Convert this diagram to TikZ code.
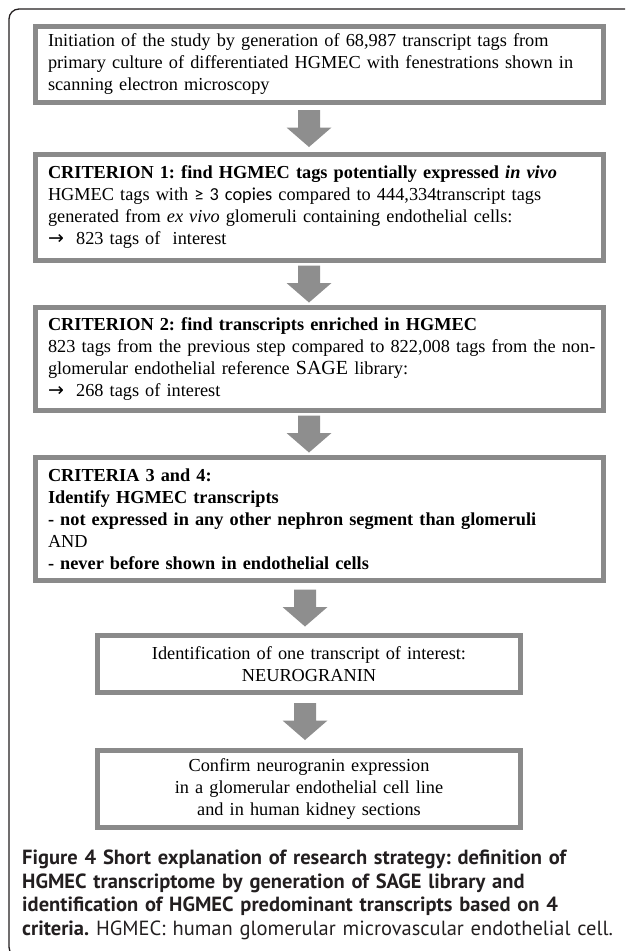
\documentclass[tikz,border=0pt]{standalone}
\usepackage{fontspec}
\setmainfont{Liberation Serif}
\setsansfont{PT Sans}
\newfontfamily\copiesfont{Carlito}
\newfontfamily\arrowfont{DejaVu Sans}
\usetikzlibrary{positioning,calc}
\definecolor{boxgray}{RGB}{138,138,138}
\definecolor{arrowgray}{RGB}{142,142,142}
\definecolor{framecol}{RGB}{35,31,32}
\definecolor{captext}{RGB}{35,31,32}
\frenchspacing
\tikzset{
  stepbox/.style={draw=boxgray, line width=5pt, inner xsep=12.5pt, inner ysep=0pt,
    align=left, font=\fontsize{18.3pt}{22pt}\selectfont},
  endbox/.style={stepbox, align=center},
  captionbox/.style={inner sep=0pt, text width=605pt, align=left, text=captext,
    font=\sffamily\fontsize{20.5pt}{23.4pt}\selectfont},
}
% block arrow centred in the gap between two boxes
\newcommand{\flowarrow}[3]{%
  \coordinate (fa-mid) at ($(#1.south)!0.5!(#2.north)$);
  \fill[arrowgray] (#3,0 |- fa-mid) ++(-11,-18.5) -- ++(22,0) -- ++(0,17.5) -- ++(11.5,0)
    -- ++(-22.5,19.5) -- ++(-22.5,-19.5) -- ++(11.5,0) -- cycle;
}
\newcommand{\toarrow}{{\arrowfont\fontsize{19pt}{22pt}\selectfont →}}

\begin{document}
\begin{tikzpicture}[x=1pt,y=-1pt]
  \useasboundingbox (0,0) rectangle (625,951);
  \clip (0,0) rectangle (625,951);
  % outer frame
  \draw[framecol, line width=1.3pt, rounded corners=10pt] (9,9) rectangle (660,957);

  \node[stepbox, text width=543pt, minimum height=76pt] (init) at (319.5,64.5)
    {Initiation of the study by generation of 68,987 transcript tags from\\
     primary culture of differentiated HGMEC with fenestrations shown in\\
     scanning electron microscopy};
  \node[stepbox, text width=543pt, minimum height=106pt] (crit1) at (319.5,207.5)
    {\textbf{CRITERION 1: find HGMEC tags potentially expressed \textit{in vivo}}\\
     HGMEC tags with {\copiesfont ≥ 3 copies} compared to 444,334transcript tags\\
     generated from \textit{ex vivo} glomeruli containing endothelial cells:\\
     \toarrow\ \ 823 tags of\ \ interest};
  \node[stepbox, text width=543pt, minimum height=103pt] (crit2) at (319.5,359)
    {\textbf{CRITERION 2: find transcripts enriched in HGMEC}\\
     \mbox{823 tags from the previous step compared to 822,008 tags from the non-}\\
     glomerular endothelial reference {\fontsize{20pt}{22pt}\selectfont SAGE} library:\\
     \toarrow\ \ 268 tags of interest};
  \node[stepbox, text width=543pt, minimum height=123pt] (crit34) at (319.5,519)
    {\textbf{CRITERIA 3 and 4:}\\
     \textbf{Identify HGMEC transcripts}\\
     \textbf{- not expressed in any other nephron segment than glomeruli}\\
     AND\\
     \textbf{- never before shown in endothelial cells}};
  \node[endbox, text width=398pt, minimum height=57pt] (ident) at (309,664)
    {Identification of one transcript of interest:\\ NEUROGRANIN};
  \node[endbox, text width=398pt, minimum height=77pt] (confirm) at (309,789)
    {Confirm neurogranin expression\\
     in a glomerular endothelial cell line\\
     and in human kidney sections};

  \flowarrow{init}{crit1}{309}
  \flowarrow{crit1}{crit2}{309}
  \flowarrow{crit2}{crit34}{309}
  \flowarrow{crit34}{ident}{305}
  \flowarrow{ident}{confirm}{305}

  \node[captionbox, anchor=north west] (caption) at (22,850)
    {\textbf{Figure 4 Short explanation of research strategy: definition of}\\
     \textbf{HGMEC transcriptome by generation of SAGE library and}\\
     \textbf{identification of HGMEC predominant transcripts based on 4}\\
     \textbf{criteria.} HGMEC: human glomerular microvascular endothelial cell.};
\end{tikzpicture}
\end{document}
